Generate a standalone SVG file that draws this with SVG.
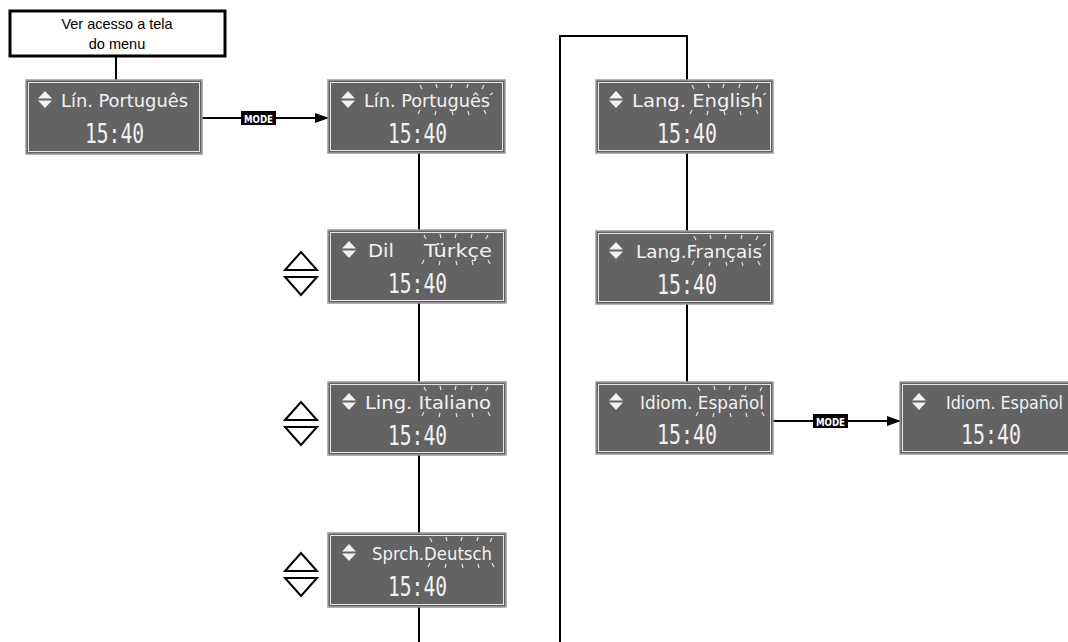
<svg xmlns="http://www.w3.org/2000/svg" width="1068" height="642" viewBox="0 0 1068 642">
<style>
.nb{fill:#636363;stroke:#9a9a9a;stroke-width:1.5}
.ni{fill:none;stroke:#e6e6e6;stroke-width:1}
.t1{font-family:"DejaVu Sans Condensed","DejaVu Sans",sans-serif;font-size:17px;fill:#f2f2f2}
.t2{font-family:"DejaVu Sans Mono",monospace;font-size:26px;fill:#f2f2f2}
.ic{fill:#f2f2f2}
.bl{fill:none;stroke:#e0e0e0;stroke-width:1.2}
.ln{fill:none;stroke:#000;stroke-width:2}
.ud{fill:#fff;stroke:#000;stroke-width:2;stroke-linejoin:miter}
.mt{font-family:"DejaVu Sans Condensed","DejaVu Sans",sans-serif;font-size:11px;font-weight:bold;fill:#fff}
.cap{font-family:"Liberation Sans",Arial,sans-serif;font-size:14.5px;fill:#000}
</style>
<defs>
<marker id="ah" markerWidth="14" markerHeight="10" refX="13" refY="5" orient="auto" markerUnits="userSpaceOnUse">
<path d="M0,0 L14,5 L0,10 Z" fill="#000"/>
</marker>
<g id="dia"><path d="M0,7.5 L7,0 L14,7.5 Z M0,9.5 L14,9.5 L7,17 Z"/></g>
<g id="updown"><path d="M0,18 L16,0 L32,18 Z M0,25 L32,25 L16,43 Z"/></g>
</defs>

<g id="connectors">
<line class="ln" x1="116" y1="56" x2="116" y2="80"/>
<line class="ln" x1="202" y1="118" x2="328" y2="118" marker-end="url(#ah)"/>
<rect x="241" y="111" width="35" height="14" fill="#000"/>
<text class="mt" x="244" y="122.5" textLength="29" lengthAdjust="spacingAndGlyphs">MODE</text>
<line class="ln" x1="419" y1="153" x2="419" y2="230"/>
<line class="ln" x1="419" y1="303" x2="419" y2="382"/>
<line class="ln" x1="419" y1="455" x2="419" y2="533"/>
<line class="ln" x1="419" y1="607" x2="419" y2="642"/>
<polyline class="ln" points="560,642 560,36 687,36 687,80"/>
<line class="ln" x1="687" y1="153" x2="687" y2="231"/>
<line class="ln" x1="687" y1="304" x2="687" y2="382"/>
<line class="ln" x1="773" y1="421" x2="900" y2="421" marker-end="url(#ah)"/>
<rect x="813" y="414" width="35" height="14" fill="#000"/>
<text class="mt" x="816" y="425.5" textLength="29" lengthAdjust="spacingAndGlyphs">MODE</text>
</g>

<g id="start">
<rect x="10" y="11" width="215" height="45" fill="#fff" stroke="#000" stroke-width="3"/>
<text class="cap" x="117" y="29" text-anchor="middle">Ver acesso a tela</text>
<text class="cap" x="117" y="49" text-anchor="middle">do menu</text>
</g>

<g id="n1">
<rect class="nb" x="26" y="80" width="176" height="74"/>
<rect class="ni" x="28.5" y="82.5" width="171" height="69"/>
<use href="#dia" x="38" y="91" class="ic"/>
<text class="t1" x="61" y="107" textLength="127" lengthAdjust="spacingAndGlyphs">Lín. Português</text>
<text class="t2" x="85" y="143" textLength="59" lengthAdjust="spacingAndGlyphs">15:40</text>
</g>

<g id="n2">
<rect class="nb" x="328" y="80" width="177" height="73"/>
<rect class="ni" x="330.5" y="82.5" width="172" height="68"/>
<use href="#dia" x="341" y="91" class="ic"/>
<text class="t1" x="364" y="107" textLength="126" lengthAdjust="spacingAndGlyphs">Lín. Português</text>
<text class="t2" x="388" y="143" textLength="59" lengthAdjust="spacingAndGlyphs">15:40</text>
<path class="bl" d="M420,85 l2,4 M436,84 l1,4 M452,84 l-1,4 M468,84 l-1,4 M484,85 l-2,4 M490,95 l3,-2 M420,110 l-2,4 M436,111 l-1,4 M452,111 l1,4 M468,111 l1,4 M484,110 l2,4"/>
</g>

<g id="n3">
<rect class="nb" x="328" y="230" width="178" height="73"/>
<rect class="ni" x="330.5" y="232.5" width="173" height="68"/>
<use href="#dia" x="342" y="241" class="ic"/>
<text class="t1" x="368" y="257" textLength="26" lengthAdjust="spacingAndGlyphs">Dil</text>
<text class="t1" x="424" y="257" textLength="68" lengthAdjust="spacingAndGlyphs">Türkçe</text>
<path class="bl" d="M424,235 l2,4 M440,234 l1,4 M456,234 l-1,4 M472,234 l-1,4 M488,235 l-2,4 M424,260 l-2,4 M440,261 l-1,4 M456,261 l1,4 M472,261 l1,4 M488,260 l2,4"/>
<text class="t2" x="388" y="293" textLength="59" lengthAdjust="spacingAndGlyphs">15:40</text>
</g>
<use href="#updown" x="285" y="252" class="ud"/>

<g id="n4">
<rect class="nb" x="328" y="382" width="178" height="73"/>
<rect class="ni" x="330.5" y="384.5" width="173" height="68"/>
<use href="#dia" x="342" y="393" class="ic"/>
<text class="t1" x="365" y="409" textLength="126" lengthAdjust="spacingAndGlyphs">Ling. Italiano</text>
<path class="bl" d="M424,387 l2,4 M440,386 l1,4 M456,386 l-1,4 M472,386 l-1,4 M488,387 l-2,4 M424,412 l-2,4 M440,413 l-1,4 M456,413 l1,4 M472,413 l1,4 M488,412 l2,4"/>
<text class="t2" x="388" y="445" textLength="59" lengthAdjust="spacingAndGlyphs">15:40</text>
</g>
<use href="#updown" x="285" y="402" class="ud"/>

<g id="n5">
<rect class="nb" x="328" y="533" width="178" height="74"/>
<rect class="ni" x="330.5" y="535.5" width="173" height="69"/>
<use href="#dia" x="342" y="544" class="ic"/>
<text class="t1" x="372" y="560" textLength="120" lengthAdjust="spacingAndGlyphs">Sprch.Deutsch</text>
<path class="bl" d="M430,538 l2,4 M446,537 l1,4 M462,537 l-1,4 M478,537 l-1,4 M492,538 l-2,4 M430,563 l-2,4 M446,564 l-1,4 M462,564 l1,4 M478,564 l1,4 M492,563 l2,4"/>
<text class="t2" x="388" y="596" textLength="59" lengthAdjust="spacingAndGlyphs">15:40</text>
</g>
<use href="#updown" x="285" y="553" class="ud"/>

<g id="n6">
<rect class="nb" x="596" y="80" width="177" height="73"/>
<rect class="ni" x="598.5" y="82.5" width="172" height="68"/>
<use href="#dia" x="609" y="91" class="ic"/>
<text class="t1" x="632" y="107" textLength="131" lengthAdjust="spacingAndGlyphs">Lang. English</text>
<path class="bl" d="M692,85 l2,4 M708,84 l1,4 M724,84 l-1,4 M740,84 l-1,4 M758,85 l-2,4 M763,95 l3,-2 M692,110 l-2,4 M708,111 l-1,4 M724,111 l1,4 M740,111 l1,4 M756,110 l2,4"/>
<text class="t2" x="657" y="143" textLength="60" lengthAdjust="spacingAndGlyphs">15:40</text>
</g>

<g id="n7">
<rect class="nb" x="596" y="231" width="177" height="73"/>
<rect class="ni" x="598.5" y="233.5" width="172" height="68"/>
<use href="#dia" x="609" y="242" class="ic"/>
<text class="t1" x="636" y="258" textLength="126" lengthAdjust="spacingAndGlyphs">Lang.Français</text>
<path class="bl" d="M694,236 l2,4 M710,235 l1,4 M726,235 l-1,4 M742,235 l-1,4 M758,236 l-2,4 M763,246 l3,-2 M694,261 l-2,4 M710,262 l-1,4 M726,262 l1,4 M742,262 l1,4 M758,261 l2,4"/>
<text class="t2" x="657" y="294" textLength="60" lengthAdjust="spacingAndGlyphs">15:40</text>
</g>

<g id="n8">
<rect class="nb" x="596" y="382" width="177" height="72"/>
<rect class="ni" x="598.5" y="384.5" width="172" height="67"/>
<use href="#dia" x="609" y="393" class="ic"/>
<text class="t1" x="640" y="409" textLength="124" lengthAdjust="spacingAndGlyphs">Idiom. Español</text>
<path class="bl" d="M698,387 l2,4 M714,386 l1,4 M730,386 l-1,4 M746,386 l-1,4 M762,387 l-2,4 M698,412 l-2,4 M714,413 l-1,4 M730,413 l1,4 M746,413 l1,4 M762,412 l2,4"/>
<text class="t2" x="657" y="444" textLength="60" lengthAdjust="spacingAndGlyphs">15:40</text>
</g>

<g id="n9">
<rect class="nb" x="900" y="382" width="180" height="72"/>
<rect class="ni" x="902.5" y="384.5" width="175" height="67"/>
<use href="#dia" x="912" y="393" class="ic"/>
<text class="t1" x="946" y="409" textLength="117" lengthAdjust="spacingAndGlyphs">Idiom. Español</text>
<text class="t2" x="961" y="444" textLength="60" lengthAdjust="spacingAndGlyphs">15:40</text>
</g>
</svg>
